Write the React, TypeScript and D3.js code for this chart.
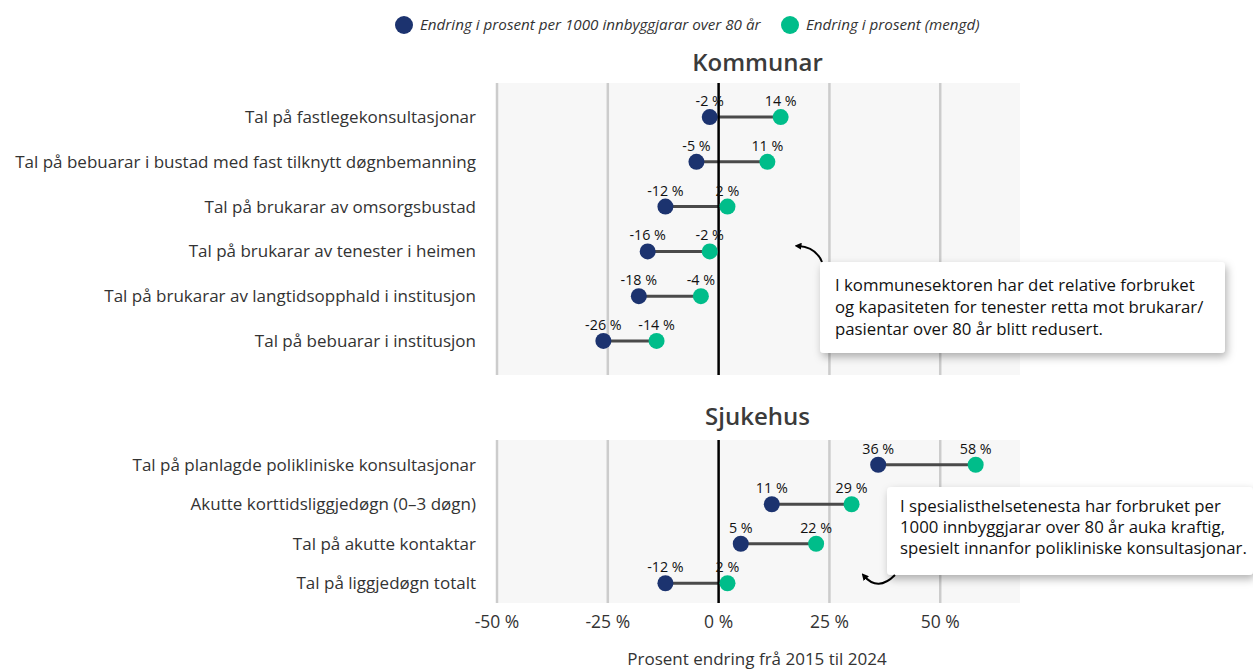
import React from "react";
import * as d3 from "d3";

const kommunarCats = [
  "Tal på fastlegekonsultasjonar",
  "Tal på bebuarar i bustad med fast tilknytt døgnbemanning",
  "Tal på brukarar av omsorgsbustad",
  "Tal på brukarar av tenester i heimen",
  "Tal på brukarar av langtidsopphald i institusjon",
  "Tal på bebuarar i institusjon",
];
const kommunarPer1000 = [-2, -5, -12, -16, -18, -26];
const kommunarMengd = [14, 11, 2, -2, -4, -14];

const sjukehusCats = [
  "Tal på planlagde polikliniske konsultasjonar",
  "Akutte korttidsliggjedøgn (0–3 døgn)",
  "Tal på akutte kontaktar",
  "Tal på liggjedøgn totalt",
];
const sjukehusPer1000 = [36, 12, 5, -12];
const sjukehusMengd = [58, 30, 22, 2];
const sjukehusLabels1 = [36, 11, 5, -12];
const sjukehusLabels2 = [58, 29, 22, 2];

const xTicks = [-50, -25, 0, 25, 50];
const legendLabels = [
  "Endring i prosent per 1000 innbyggjarar over 80 år",
  "Endring i prosent (mengd)",
];
const annot1 = [
  "I kommunesektoren har det relative forbruket",
  "og kapasiteten for tenester retta mot brukarar/",
  "pasientar over 80 år blitt redusert.",
];
const annot2 = [
  "I spesialisthelsetenesta har forbruket per",
  "1000 innbyggjarar over 80 år auka kraftig,",
  "spesielt innanfor polikliniske konsultasjonar.",
];

const NAVY = "#1c336f";
const GREEN = "#00bd8a";
const FONT = "'Open Sans', 'Noto Sans', sans-serif";

const W = 1253;
const H = 671;

const x = d3.scaleLinear().domain([-50, 68]).range([497, 1020]);

type PanelProps = {
  title: string;
  cats: string[];
  a: number[];
  b: number[];
  la: number[];
  lb: number[];
  y0: number;
  y1: number;
  r0: number;
  r1: number;
  pad: number;
  titleY: number;
};

function Panel({ title, cats, a, b, la, lb, y0, y1, r0, r1, pad, titleY }: PanelProps) {
  const y = d3.scalePoint<string>().domain(cats).range([r0, r1]).padding(pad);
  const [xmin, xmax] = x.range();
  return (
    <g>
      <text
        x={(xmin + xmax) / 2 - 1}
        y={titleY}
        textAnchor="middle"
        fontFamily={FONT}
        fontWeight={600}
        fontSize={24}
        fill="#3b3b3b"
      >
        {title}
      </text>
      <rect x={xmin} y={y0} width={xmax - xmin} height={y1 - y0} fill="#f7f7f7" />
      {xTicks
        .filter((t) => t !== 0)
        .map((t) => (
          <line key={t} x1={x(t)} x2={x(t)} y1={y0} y2={y1} stroke="#cccccc" strokeWidth={2.5} />
        ))}
      {cats.map((c) => (
        <text
          key={c}
          x={476}
          y={y(c)!}
          dy="0.35em"
          textAnchor="end"
          fontFamily={FONT}
          fontSize={17}
          fill="#333"
        >
          {c}
        </text>
      ))}
      {cats.map((c, i) => (
        <line
          key={"l" + c}
          x1={x(a[i])}
          x2={x(b[i])}
          y1={y(c)!}
          y2={y(c)!}
          stroke="#4a4a4a"
          strokeWidth={3}
        />
      ))}
      <line x1={x(0)} x2={x(0)} y1={y0} y2={y1} stroke="#000" strokeWidth={2.5} />
      {cats.map((c, i) => (
        <g key={"d" + c}>
          <circle cx={x(a[i])} cy={y(c)!} r={8} fill={NAVY} />
          <circle cx={x(b[i])} cy={y(c)!} r={8} fill={GREEN} />
          <text
            x={x(a[i])}
            y={y(c)! - 16}
            dy="0.35em"
            textAnchor="middle"
            fontFamily={FONT}
            fontSize={14.3}
            fill="#111"
          >
            {la[i]} %
          </text>
          <text
            x={x(b[i])}
            y={y(c)! - 16}
            dy="0.35em"
            textAnchor="middle"
            fontFamily={FONT}
            fontSize={14.3}
            fill="#111"
          >
            {lb[i]} %
          </text>
        </g>
      ))}
    </g>
  );
}

function Annotation({ lines, bx, by, bw, bh, tx, ty, lh }: { lines: string[]; bx: number; by: number; bw: number; bh: number; tx: number; ty: number; lh: number }) {
  return (
    <g>
      <rect x={bx} y={by} width={bw} height={bh} rx={4} fill="#fff" filter="url(#shadow)" />
      {lines.map((l, i) => (
        <text key={i} x={tx} y={ty + i * lh} dy="0.35em" fontFamily={FONT} fontSize={16.8} fill="#111">
          {l}
        </text>
      ))}
    </g>
  );
}

export default function App() {
  return (
    <svg
      width={W}
      height={H}
      style={{ position: "absolute", left: 0, top: 0, background: "#fff" }}
    >
      <defs>
        <filter id="shadow" x="-10%" y="-20%" width="130%" height="160%">
          <feDropShadow dx={2} dy={4} stdDeviation={4} floodColor="#000" floodOpacity={0.3} />
        </filter>
        <marker id="arrow" viewBox="0 0 10 10" refX={5} refY={5} markerWidth={7} markerHeight={7} orient="auto" markerUnits="userSpaceOnUse">
          <path d="M0,0 L10,5 L0,10 z" fill="#000" />
        </marker>
      </defs>

      {/* Legend */}
      <g fontFamily={FONT} fontSize={15.2} fontStyle="italic" fill="#333">
        <circle cx={404} cy={25} r={9} fill={NAVY} />
        <text x={420} y={25} dy="0.35em">{legendLabels[0]}</text>
        <circle cx={790} cy={25} r={9} fill={GREEN} />
        <text x={806} y={25} dy="0.35em">{legendLabels[1]}</text>
      </g>

      <Panel
        title="Kommunar"
        cats={kommunarCats}
        a={kommunarPer1000}
        b={kommunarMengd}
        la={kommunarPer1000}
        lb={kommunarMengd}
        y0={83}
        y1={375}
        r0={83}
        r1={375}
        pad={0.76}
        titleY={71}
      />
      <Panel
        title="Sjukehus"
        cats={sjukehusCats}
        a={sjukehusPer1000}
        b={sjukehusMengd}
        la={sjukehusLabels1}
        lb={sjukehusLabels2}
        y0={440}
        y1={603}
        r0={445}
        r1={603}
        pad={0.5}
        titleY={425}
      />

      {/* x axis */}
      {xTicks.map((t) => (
        <text key={t} x={x(t)} y={622} dy="0.35em" textAnchor="middle" fontFamily={FONT} fontSize={17.5} fill="#333">
          {t} %
        </text>
      ))}
      <text x={757} y={659} dy="0.35em" textAnchor="middle" fontFamily={FONT} fontSize={17} fill="#333">
        Prosent endring frå 2015 til 2024
      </text>

      {/* Annotations */}
      <path d="M822,262 Q816,247 798,246" fill="none" stroke="#000" strokeWidth={2} markerEnd="url(#arrow)" />
      <Annotation lines={annot1} bx={820} by={262} bw={405} bh={91} tx={835} ty={285} lh={22} />
      <Annotation lines={annot2} bx={887} by={487} bw={366} bh={88} tx={900} ty={506} lh={21} />
      <path d="M895,575 Q878,592 864,576" fill="none" stroke="#000" strokeWidth={2} markerEnd="url(#arrow)" />
    </svg>
  );
}
